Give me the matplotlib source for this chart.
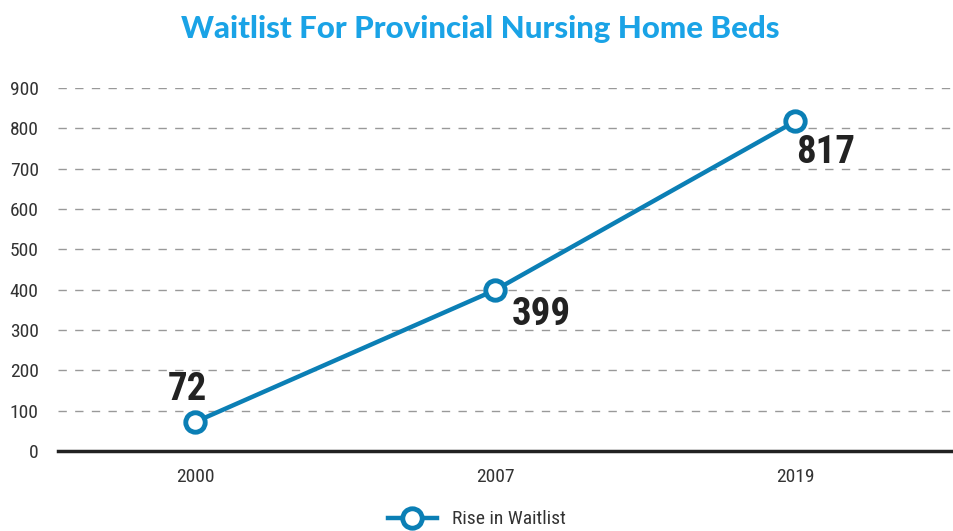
import matplotlib
matplotlib.use("Agg")
import matplotlib.pyplot as plt
from matplotlib import font_manager

names = {f.name for f in font_manager.fontManager.ttflist}
cond = None
for n in ["Roboto Condensed", "Liberation Sans Narrow", "Open Sans Condensed", "DejaVu Sans Condensed"]:
    if n in names:
        cond = n
        break
if cond is None:
    cond = "Liberation Sans"
plt.rcParams['font.family'] = [cond, 'DejaVu Sans']

years = ["2000", "2007", "2019"]
waitlist = [72, 399, 817]
yticks = [0, 100, 200, 300, 400, 500, 600, 700, 800, 900]
series_name = "Rise in Waitlist"
title = "Waitlist For Provincial Nursing Home Beds"

line_color = "#0b7fb5"
fig = plt.figure(figsize=(9.54, 5.31), dpi=100)
ax = fig.add_axes([0.061, 0.1507, 0.939, 0.6836])
xs = list(range(len(years)))
ax.plot(xs, waitlist, color=line_color, lw=3.2, marker='o', ms=14, mfc='white',
        mec=line_color, mew=3.5, label=series_name, zorder=3, clip_on=False)
ax.set_xlim(-0.457, 2.53)
ax.set_ylim(0, 900)
ax.set_yticks(yticks)
ax.set_xticks(xs)
ax.set_xticklabels(years)
ax.tick_params(axis='both', length=0, labelsize=14, colors='#333333')
ax.tick_params(axis='y', pad=14)
ax.tick_params(axis='x', pad=12)
ax.grid(axis='y', color='#999999', ls=(0, (6, 6)), lw=1)
ax.set_axisbelow(True)
for s in ['top', 'right', 'left']:
    ax.spines[s].set_visible(False)
ax.spines['bottom'].set_color('#222222')
ax.spines['bottom'].set_linewidth(2.5)
ax.yaxis.get_gridlines()[0].set_visible(False)

offsets = [(-6, 10, 'center', 'bottom'), (12, -4, 'left', 'top'), (1, -9, 'left', 'top')]
for x, v, (dx, dy, ha, va) in zip(xs, waitlist, offsets):
    ax.annotate(str(v), (x, v), xytext=(dx, dy), textcoords='offset points',
                ha=ha, va=va, fontsize=28, fontweight='bold', color='#222222')

fig.text(0.503, 0.945, title, ha='center', va='center', fontsize=22.5,
         fontweight='black', color='#1aa3e6', family=['Lato', 'DejaVu Sans'])

leg = fig.legend(loc='center', bbox_to_anchor=(0.5, 0.022), frameon=False,
                 fontsize=14, handlelength=2.5, labelcolor='#333333')
fig.savefig("out.png", dpi=100)
